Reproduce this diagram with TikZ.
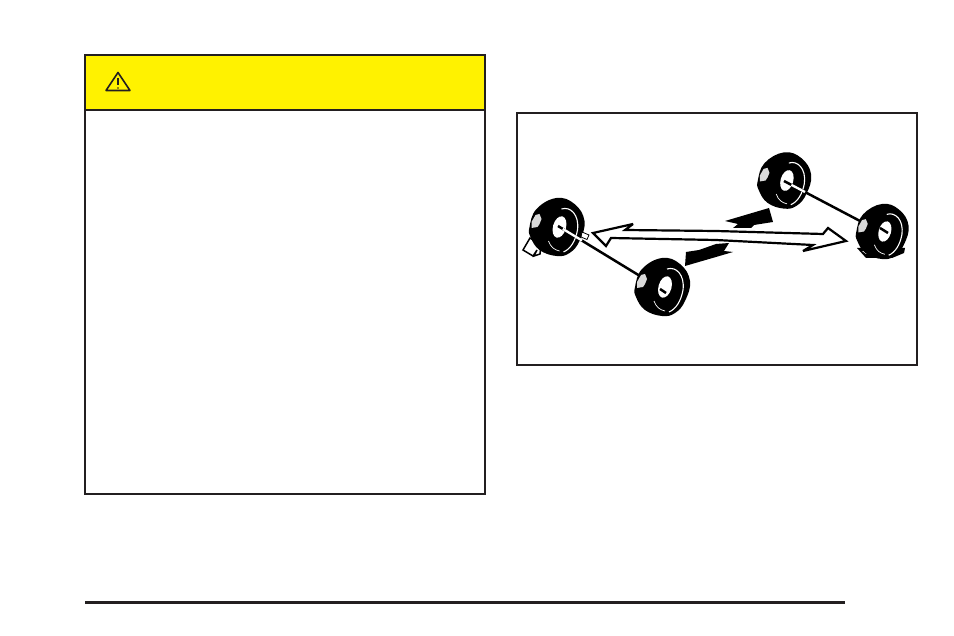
\documentclass[tikz,border=0pt]{standalone}
\usetikzlibrary{calc}
\definecolor{ink}{HTML}{231F20}
\definecolor{cautionyellow}{HTML}{FFF200}
\tikzset{
  panel/.style={draw=ink,line width=2.4pt},
  frameline/.style={draw=ink,line width=1.9pt},
  axle/.style={draw=black,line width=2.5pt},
  sleeve/.style={draw=white,line width=2.3pt},
  whitearrow/.style={draw=black,fill=white,line width=2.2pt,line join=miter,miter limit=4},
  blackarrow/.style={fill=black,draw=none},
}
\newcommand{\tyre}[3]{%
 \begin{scope}[shift={(#1,#2)},scale=#3]
  \fill[black] plot[smooth cycle,tension=.7] coordinates {(-27,0) (-20,-18) (0,-29) (18,-23) (28,-6) (23,14) (13,26) (0,29) (-17,23) (-26,10)};
  \fill[black!15] (-25,-5) -- (-21,-12) -- (-17,-13) -- (-15,-8) -- (-17,-3) -- (-19,0) -- (-25,1) -- cycle;
  \draw[white,line width=1.1pt] (5,-18) .. controls (14,-21) and (23,-12) .. (21,3) .. controls (19,14) and (14,22) .. (7,25);
  \draw[white,line width=.7pt] (-8,14) .. controls (-6,20) and (-2,23) .. (3,24);
  \fill[white] (3,0) [rotate around={-16:(3,0)}] ellipse[x radius=6.5,y radius=11];
 \end{scope}}
\begin{document}
\begin{tikzpicture}[x=1pt,y=-1pt]
\useasboundingbox (0,0) rectangle (954,636);
\fill[white] (0,0) rectangle (954,636);
% caution panel
\fill[cautionyellow] (85,55) rectangle (485,110);
\draw[panel] (85,55) rectangle (485,494);
\draw[panel] (85,110) -- (485,110);
\draw[ink,line width=1.6pt,line join=round] (118,72.5) -- (130,90.5) -- (106,90.5) -- cycle;
\draw[ink,line width=1.5pt] (118,78) -- (118,85.5);
\fill[ink] (118,88) circle[radius=.9];
% picture frame
\draw[frameline] (517,113) rectangle (917,365);
% bottom rule
\draw[ink,line width=3pt] (85,602) -- (845,602);
% tape
\draw[black,fill=white,line width=1.5pt] (530,238) -- (523,250) -- (533,256) -- (537,250) -- (534,256) -- (540,254) -- (541,245) -- cycle;
% wheels
\tyre{556.5}{227}{1}
\tyre{662}{287}{1}
\tyre{784}{180.5}{.97}
\fill[black] (857,248) -- (905,248) -- (904,253) -- (892,258) -- (866,258) -- cycle;
\fill[white] (862,251) -- (870,252) -- (866,254) -- cycle;
\tyre{882}{231.5}{.95}
% axles
\coordinate (hubA) at (558,226);
\coordinate (rimA) at (582,240.5);
\coordinate (hubB) at (640,276);
\coordinate (stubB0) at (660,289);
\coordinate (stubB1) at (666,293);
\coordinate (hubC) at (784,181);
\coordinate (rimC) at (805,192);
\coordinate (hubD) at (860,221);
\coordinate (stubD0) at (880,228);
\coordinate (stubD1) at (888,233);
\draw[axle] (hubA) -- (hubB);
\draw[sleeve] ($(hubA)!.2!(rimA)$) -- (rimA);
\draw[axle] (stubB0) -- (stubB1);
\draw[axle] (hubC) -- (hubD);
\draw[sleeve] ($(hubC)!.35!(rimC)$) -- (rimC);
\draw[axle] (stubD0) -- (stubD1);
\fill[white,draw=black,line width=.8pt] (582,232) -- (589,235) -- (587,239.5) -- (581,237) -- cycle;
% black arrow
\fill[blackarrow] (725,221) -- (769,208) -- (773,222) -- (754,225) -- (751,228) -- (733,228) -- (738,224) -- cycle;
\fill[blackarrow] (686,252) -- (699,250) -- (716,244) -- (729,243) -- (724,251) -- (733,252) -- (716,257) -- (685,266) -- cycle;
% white double arrow
\draw[whitearrow] (593,233) -- (633,224) -- (625,230) -- (716,231) -- (823,234) -- (828,228) -- (846,241) -- (803,251) -- (813,245) -- (716,240) -- (611,238) -- (606,246) -- cycle;
\end{tikzpicture}
\end{document}
